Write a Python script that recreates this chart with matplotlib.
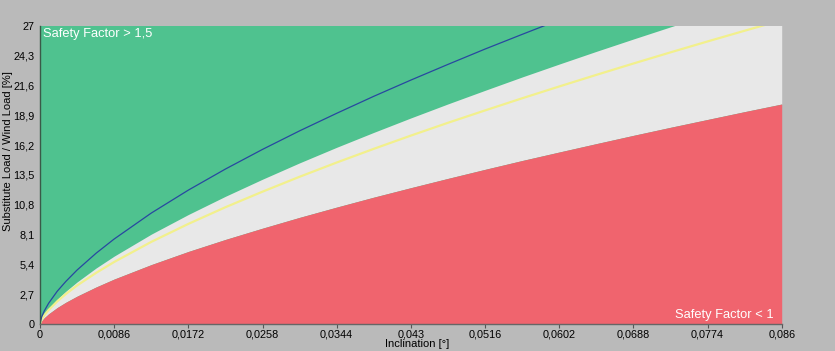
import matplotlib
matplotlib.use("Agg")
import matplotlib.pyplot as plt
import numpy as np

plt.rcParams['font.family'] = ['Liberation Sans', 'DejaVu Sans']

# inclination [°]
incl = [0, 0.0002, 0.0005, 0.001, 0.002, 0.003, 0.0043, 0.0065, 0.0086, 0.0129, 0.0172,
        0.0215, 0.0258, 0.0301, 0.0344, 0.0387, 0.043, 0.0473, 0.0516, 0.0559, 0.0602,
        0.0645, 0.0688, 0.0731, 0.0774, 0.0817, 0.086]
# boundary safety factor = 1 (red / grey)
sf_1 = [0, 0.30, 0.57, 0.92, 1.49, 1.97, 2.52, 3.35, 4.07, 5.38, 6.57,
        7.66, 8.68, 9.66, 10.59, 11.49, 12.35, 13.19, 14.01, 14.81, 15.58,
        16.34, 17.09, 17.82, 18.53, 19.24, 19.93]
# boundary safety factor = 1,5 (grey / green)
sf_15 = [0, 0.46, 0.86, 1.39, 2.25, 2.97, 3.81, 5.07, 6.15, 8.14, 9.92,
         11.57, 13.12, 14.60, 16.01, 17.36, 18.67, 19.94, 21.17, 22.38, 23.55,
         24.70, 25.82, 26.92, 28.01, 29.07, 30.12]
# yellow curve
yellow = [0, 0.42, 0.79, 1.27, 2.05, 2.72, 3.49, 4.63, 5.62, 7.44, 9.07,
          10.58, 11.99, 13.34, 14.63, 15.87, 17.07, 18.23, 19.35, 20.45, 21.52,
          22.57, 23.60, 24.61, 25.60, 26.57, 27.53]
# blue curve
blue_x = [0, 0.0002, 0.0005, 0.001, 0.002, 0.003, 0.0043, 0.0065, 0.0086, 0.0129, 0.0172,
          0.0215, 0.0258, 0.0301, 0.0344, 0.0387, 0.043, 0.0473, 0.0516, 0.0559, 0.0602,
          0.0645]
blue = [0, 0.66, 1.19, 1.88, 2.97, 3.86, 4.89, 6.41, 7.70, 10.05, 12.13,
        14.04, 15.82, 17.50, 19.09, 20.63, 22.10, 23.52, 24.91, 26.24, 27.55,
        28.82]

xticks = [0, 0.0086, 0.0172, 0.0258, 0.0344, 0.043, 0.0516, 0.0602, 0.0688, 0.0774, 0.086]
xticklabels = ["0", "0,0086", "0,0172", "0,0258", "0,0344", "0,043", "0,0516", "0,0602",
               "0,0688", "0,0774", "0,086"]
yticks = [0, 2.7, 5.4, 8.1, 10.8, 13.5, 16.2, 18.9, 21.6, 24.3, 27]
yticklabels = ["0", "2,7", "5,4", "8,1", "10,8", "13,5", "16,2", "18,9", "21,6", "24,3", "27"]

bg = "#bababa"
fig = plt.figure(figsize=(8.35, 3.51), dpi=100, facecolor=bg)
ax = fig.add_axes([40/835, 27/351, 741.7/835, 298/351])
ax.set_facecolor("#4fc28f")

ax.fill_between(incl, sf_1, sf_15, color="#e8e8e8", lw=0)
ax.fill_between(incl, 0, sf_1, color="#f0646e", lw=0)
ax.plot(incl, yellow, color="#f2f08c", lw=1.6)
ax.plot(blue_x, blue, color="#2848a0", lw=0.9)

ax.set_xlim(0, 0.086)
ax.set_ylim(0, 27)
ax.set_xticks(xticks)
ax.set_xticklabels(xticklabels)
ax.set_yticks(yticks)
ax.set_yticklabels(yticklabels)
ax.tick_params(axis="x", length=3, width=0.8, color="#555555", pad=1, labelsize=7.8)
ax.tick_params(axis="y", length=0, pad=4, labelsize=7.8)

for s in ["top", "right"]:
    ax.spines[s].set_visible(False)
ax.spines["left"].set_color("#3a5a48")
ax.spines["bottom"].set_color("#666666")
ax.spines["left"].set_linewidth(1)
ax.spines["bottom"].set_linewidth(1)

ax.set_xlabel("Inclination [°]", fontsize=8)
ax.xaxis.set_label_coords(0.509, -0.052)
ax.set_ylabel("Substitute Load / Wind Load [%]", fontsize=8)
ax.yaxis.set_label_coords(-0.037, 0.58)

ax.text(0.0045, 0.973, "Safety Factor > 1,5", transform=ax.transAxes, color="white",
        fontsize=9.3, ha="left", va="center")
ax.text(0.989, 0.03, "Safety Factor < 1", transform=ax.transAxes, color="white",
        fontsize=9.3, ha="right", va="center")

fig.savefig("out.png", dpi=100, facecolor=bg)
